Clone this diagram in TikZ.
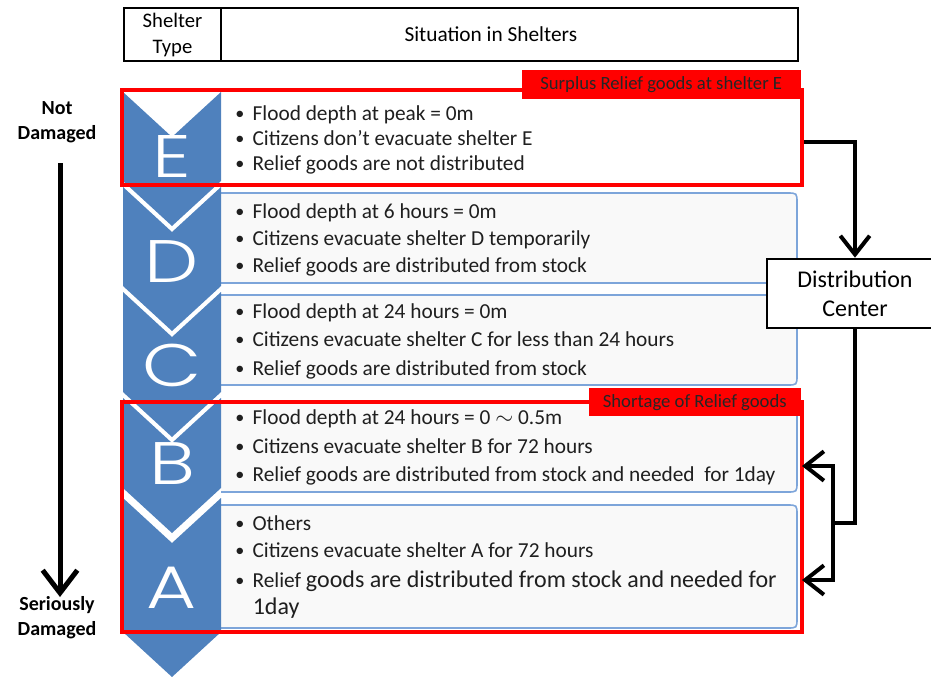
\documentclass[tikz,border=0pt]{standalone}
\usepackage{fontspec}
\setmainfont{Carlito}
\newfontfamily\chevfont{Poppins Light}
\usetikzlibrary{arrows.meta}
\definecolor{chevblue}{RGB}{79,129,189}
\definecolor{boxblue}{RGB}{125,165,218}
\definecolor{boxfill}{RGB}{249,249,249}
\definecolor{redc}{RGB}{255,0,0}
\newcommand\bul{\makebox[13pt][l]{\raisebox{0.5pt}{\scalebox{0.85}{•}}}}
\newcommand\chevron[2]{\fill[chevblue] (123,#1) -- (172,{#1+45}) -- (221,#1) -- (221,#2) -- (172,{#2+45}) -- (123,#2) -- cycle;}
\newcommand\tbox[2]{\filldraw[tbx] (221,#1) -- (787,#1) .. controls (797,#1) .. (797,{#1+10}) -- (797,{#2-10}) .. controls (797,#2) .. (787,#2) -- (221,#2);}
\newcommand\chl[1]{\scalebox{1.28}[1]{#1}}
\begin{document}
\begin{tikzpicture}[x=0.75pt,y=-0.75pt,
  hdr/.style={draw=black,line width=1.5pt,minimum height=39.75pt,anchor=north west,inner sep=0pt,align=center,font=\fontsize{15.5}{19.5}\selectfont},
  tbx/.style={draw=boxblue,fill=boxfill,line width=1.2pt},
  redbox/.style={draw=redc,line width=3pt,anchor=north west,inner sep=0pt,minimum width=510pt},
  rlab/.style={fill=redc,anchor=north east,inner sep=0pt,text=black!85,font=\fontsize{14}{16}\selectfont},
  txt/.style={anchor=base west,inner sep=0pt,text=black!88,font=\fontsize{16}{19}\selectfont},
  letter/.style={text=white,inner sep=0pt,font=\chevfont\fontsize{45}{45}\selectfont},
  side/.style={align=center,inner sep=0pt,font=\bfseries\fontsize{15}{18.75}\selectfont},
  dcbox/.style={draw=black,fill=white,line width=2pt,inner sep=0pt,align=center,minimum width=132pt,minimum height=51.75pt,font=\fontsize{18}{21.5}\selectfont},
  conn/.style={line width=3pt,-{Straight Barb[length=14pt,width=22pt]}},
  bigarrow/.style={line width=3.75pt,-{Straight Barb[length=17pt,width=26pt]}},
  plainline/.style={line width=3pt}
]
\useasboundingbox (0,0) rectangle (931,676);

% header
\node[hdr,minimum width=72.75pt] (h1) at (123,7) {Shelter\\Type};
\node[hdr,minimum width=432.75pt,font=\fontsize{16}{18}\selectfont] (h2) at (220,7) {\hspace*{-28pt}Situation in Shelters};

% text boxes
\tbox{193}{283}
\tbox{295}{385}
\tbox{402}{492}
\tbox{505}{628}

% chevrons
\chevron{92}{181}
\chevron{187}{286}
\chevron{292}{392}
\chevron{398}{488}
\chevron{498}{632}

\node[letter] (lE) at (172,156) {\chl{E}};
\node[letter] (lD) at (172,262) {\chl{D}};
\node[letter] (lC) at (172,365) {\chl{C}};
\node[letter] (lB) at (172,464) {\chl{B}};
\node[letter] (lA) at (172,588) {\chl{A}};

% red frames and labels
\node[redbox,minimum height=71.25pt] (redE) at (120,88) {};
\node[redbox,minimum height=172.5pt] (redBA) at (120,400) {};
\node[rlab,minimum width=209.25pt,minimum height=21.75pt] (labE) at (801,70) {Surplus Relief goods at shelter E};
\node[rlab,minimum width=159pt,minimum height=21pt] (labBA) at (801,388) {Shortage of Relief goods};

% texts
\node[txt] (e1) at (235,120) {\bul Flood depth at peak = 0m};
\node[txt] (e2) at (235,145) {\bul Citizens don’t evacuate shelter E};
\node[txt] (e3) at (235,170) {\bul Relief goods are not distributed};

\node[txt] (d1) at (235,218) {\bul Flood depth at 6 hours = 0m};
\node[txt] (d2) at (235,245) {\bul Citizens evacuate shelter D temporarily};
\node[txt] (d3) at (235,272) {\bul Relief goods are distributed from stock};

\node[txt] (c1) at (235,318) {\bul Flood depth at 24 hours = 0m};
\node[txt] (c2) at (235,346) {\bul Citizens evacuate shelter C for less than 24 hours};
\node[txt] (c3) at (235,375) {\bul Relief goods are distributed from stock};

\node[txt] (b1) at (235,424) {\bul Flood depth at 24 hours = 0 $\sim$ 0.5m};
\node[txt] (b2) at (235,453) {\bul Citizens evacuate shelter B for 72 hours};
\node[txt] (b3) at (235,481) {\bul Relief goods are distributed from stock and needed\ \ for 1day};

\node[txt] (a1) at (235,530) {\bul Others};
\node[txt] (a2) at (235,557) {\bul Citizens evacuate shelter A for 72 hours};
\node[txt] (a3) at (235,587) {\bul Relief {\fontsize{18}{20}\selectfont goods are distributed from stock and needed for}};
\node[txt,font=\fontsize{18}{20}\selectfont] (a4) at (252.5,614) {1day};

% side labels and arrow
\node[side] (nd) at (57,122) {Not\\Damaged};
\node[side] (sd) at (57,618) {Seriously\\Damaged};
\coordinate (la1) at (60,163);
\coordinate (la2) at (60,597);
\draw[bigarrow] (la1) -- (la2);

% distribution center and connectors
\node[dcbox] (dc) at (855,293.5) {Distribution\\Center};
\coordinate (jn) at (833,523);
\coordinate (tipB) at (802,466);
\coordinate (tipA) at (802,580);
\draw[conn] ([yshift=-3pt]redE.east) -| (dc.north);
\draw[plainline] (dc.south) |- (jn);
\draw[conn] (jn) |- (tipB);
\draw[conn] (jn) |- (tipA);
\end{tikzpicture}
\end{document}
